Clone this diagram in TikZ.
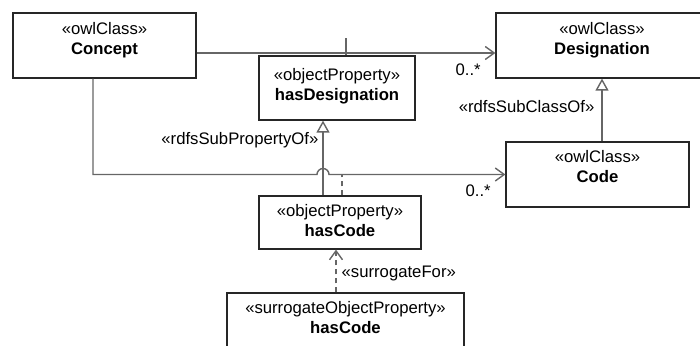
\documentclass[tikz,border=0pt]{standalone}
\usepackage{fontspec}
\setmainfont{Liberation Sans}
\usetikzlibrary{arrows.meta,positioning}
\definecolor{edgegray}{HTML}{666666}
\tikzstyle{every picture}+=[remember picture]
% stereotype over bold name, raised a little inside its box
\newcommand\umltext[3][4pt]{\raisebox{#1}[\height][\depth]{%
  \begin{tabular}{@{}c@{}}#2\\\textbf{#3}\end{tabular}}}

\begin{document}
\begin{tikzpicture}[x=1pt,y=-1pt,
    font=\fontsize{16.7}{20}\selectfont,
    box/.style={draw=black!85,line width=1.2pt,inner sep=0pt},
    link/.style={draw=edgegray,line width=1.4pt},
    gen/.style={link,-{Triangle[open,length=12pt,width=13pt,fill=white]}},
    nav/.style={link,-{Straight Barb[length=9pt,width=13pt]}},
    dep/.style={dash pattern=on 5pt off 4pt},
    lbl/.style={inner sep=1pt},
    mult/.style={inner sep=0pt}]
  \useasboundingbox (0,0) rectangle (700,345);
  % classes and properties
  \node[box,minimum width=183pt,minimum height=65pt] (concept) at (104.5,45.5)
    {\umltext[4.5pt]{«owlClass»}{Concept}};
  \node[box,minimum width=212pt,minimum height=65pt] (designation) at (602,45.5)
    {\umltext[4.5pt]{«owlClass»}{Designation}};
  \node[box,minimum width=156pt,minimum height=64pt] (hasdesig) at (337,88)
    {\umltext[2pt]{«objectProperty»}{hasDesignation}};
  \node[box,minimum width=183pt,minimum height=65pt] (code) at (597.5,174.5)
    {\umltext[6.5pt]{«owlClass»}{Code}};
  \node[box,minimum width=162pt,minimum height=53pt] (hascode) at (340,222.5)
    {\umltext[0.5pt]{«objectProperty»}{hasCode}};
  \node[box,minimum width=237pt,minimum height=62pt] (surrogate) at (345.5,324)
    {\umltext[5pt]{«surrogateObjectProperty»}{hasCode}};
  \coordinate (hop) at (323,174.5);
  % associations
  \draw[nav] ([yshift=-7.5pt]concept.east) -- ([yshift=-7.5pt]designation.west)
    node[mult,pos=1,below left=10pt and 14pt] {0..*};
  \draw[link] (hasdesig.north -| 346,0) -- (346,38);
  \draw[nav] (concept.south -| 93,0) |- ([xshift=-6pt]hop)
    arc[start angle=180,end angle=0,radius=6pt] -- (code.west)
    node[mult,pos=1,below left=10pt and 14pt] {0..*};
  \draw[link,dep] ([xshift=2pt]hascode.north) -- ([xshift=2pt]hascode.north |- hop);
  % generalizations
  \draw[gen] (hascode.north -| hop) -- (hasdesig.south -| hop)
    node[lbl,pos=0.74,left=3pt] {«rdfsSubPropertyOf»};
  \draw[gen] (code.north -| designation.south) -- (designation.south)
    node[lbl,pos=0.55,left=6pt] {«rdfsSubClassOf»};
  \draw[nav,dep] ([xshift=-9.5pt]surrogate.north) -- ([xshift=-9.5pt]surrogate.north |- hascode.south)
    node[lbl,pos=0.45,right=4pt] {«surrogateFor»};
\end{tikzpicture}
\end{document}
